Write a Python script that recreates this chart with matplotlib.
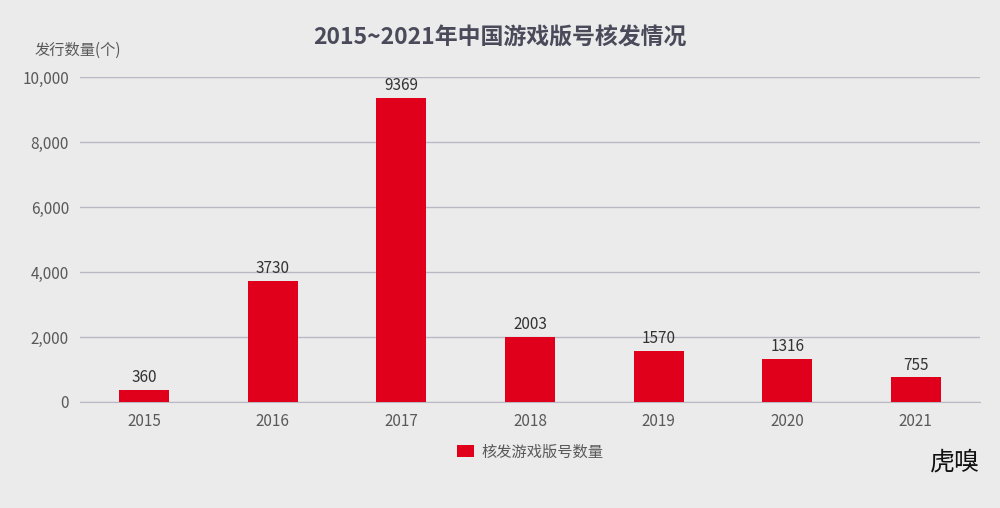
import matplotlib.pyplot as plt

plt.rcParams['font.family'] = ['Noto Sans CJK SC', 'DejaVu Sans']

years = ['2015', '2016', '2017', '2018', '2019', '2020', '2021']
counts = [360, 3730, 9369, 2003, 1570, 1316, 755]

bg = '#ebebeb'
red = '#e0001b'

fig = plt.figure(figsize=(10, 5.08), dpi=100, facecolor=bg)
ax = fig.add_axes([0.08, 0.2087, 0.90, 0.6397], facecolor=bg)

bars = ax.bar(range(len(years)), counts, width=0.39, color=red, label='核发游戏版号数量', zorder=3)
for i, v in enumerate(counts):
    ax.text(i, v + 120, str(v), ha='center', va='bottom', fontsize=11, color='#333333')

ax.set_xlim(-0.5, len(years) - 0.5)
ax.set_ylim(0, 10000)
ax.set_yticks(range(0, 10001, 2000))
ax.set_yticklabels(['{:,}'.format(t) for t in range(0, 10001, 2000)])
ax.set_xticks(range(len(years)))
ax.set_xticklabels(years)
ax.tick_params(length=0, labelsize=11, labelcolor='#595959', pad=8)
ax.grid(axis='y', color='#b9b9c6', linewidth=1, zorder=0)
for s in ['top', 'right', 'left']:
    ax.spines[s].set_visible(False)
ax.spines['bottom'].set_color('#b9b9c6')

fig.text(0.5, 0.925, '2015~2021年中国游戏版号核发情况', ha='center', va='center',
         fontsize=16.5, fontweight='bold', color='#4a4a5a')
fig.text(0.035, 0.9, '发行数量(个)', ha='left', va='center', fontsize=11, color='#595959')

ax.legend(loc='upper center', bbox_to_anchor=(0.5, -0.085), frameon=False,
          fontsize=11, labelcolor='#595959', handlelength=1.1, handleheight=0.8,
          handletextpad=0.5)

fig.text(0.955, 0.09, '虎嗅', ha='center', va='center', fontsize=18, color='#111111')

fig.savefig('out.png', facecolor=bg)
